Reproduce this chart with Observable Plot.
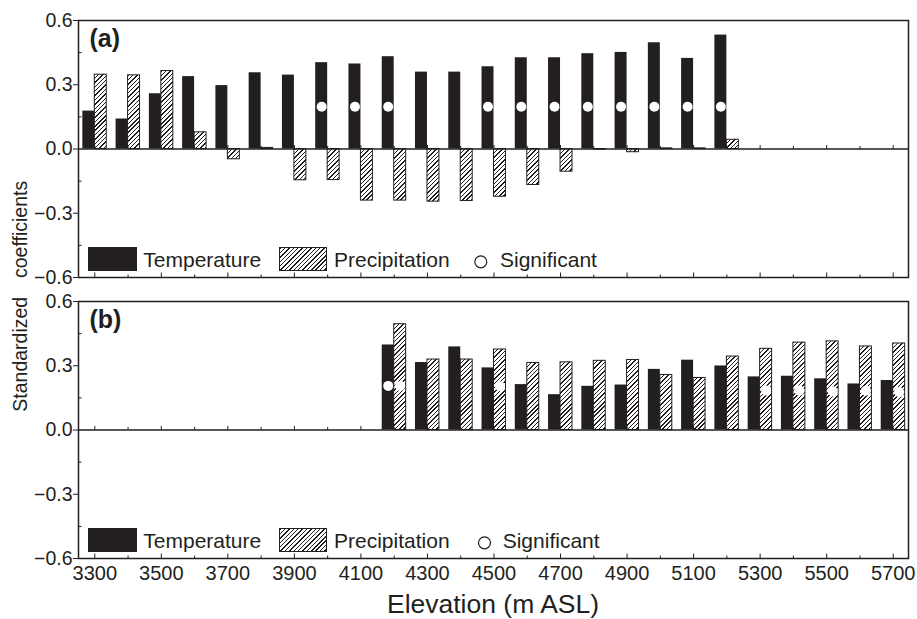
<!DOCTYPE html>
<html>
<head>
<meta charset="utf-8">
<script src="https://cdn.jsdelivr.net/npm/d3@7"></script>
<script src="https://cdn.jsdelivr.net/npm/@observablehq/plot@0.6"></script>
<style>
  html, body { margin: 0; padding: 0; background: #fff; }
  #wrap { position: relative; width: 917px; height: 619px; background: #fff; overflow: hidden; }
  #hatch-layer, #chart, #overlay { position: absolute; left: 0; top: 0; }
  #hatch-layer { width: 917px; height: 619px; }
  #overlay { pointer-events: none; }
</style>
</head>
<body>
<div id="wrap">
  <div id="hatch-layer"></div>
  <div id="chart"></div>
  <svg id="overlay" width="917" height="619"></svg>
</div>
<script>
// ---------------- data ----------------
const elevations = [3300, 3400, 3500, 3600, 3700, 3800, 3900, 4000, 4100, 4200, 4300, 4400, 4500,
                    4600, 4700, 4800, 4900, 5000, 5100, 5200, 5300, 5400, 5500, 5600, 5700];

// Panel (a)
const tempA = [0.177, 0.140, 0.258, 0.338, 0.296, 0.356, 0.345, 0.403, 0.397, 0.431, 0.359, 0.359, 0.384,
               0.426, 0.426, 0.445, 0.451, 0.496, 0.423, 0.532, null, null, null, null, null];
const precA = [0.347, 0.344, 0.364, 0.078, -0.048, 0.005, -0.146, -0.145, -0.241, -0.241, -0.246, -0.243, -0.223,
               -0.168, -0.106, -0.003, -0.015, 0.003, 0.003, 0.043, null, null, null, null, null];

// Panel (b)
const tempB = [null, null, null, null, null, null, null, null, null, 0.397, 0.315, 0.388, 0.290,
               0.212, 0.165, 0.204, 0.210, 0.283, 0.326, 0.299, 0.248, 0.251, 0.239, 0.215, 0.231];
const precB = [null, null, null, null, null, null, null, null, null, 0.494, 0.329, 0.329, 0.376,
               0.313, 0.316, 0.323, 0.327, 0.257, 0.243, 0.343, 0.379, 0.408, 0.414, 0.390, 0.404];

// Significant markers
const sigA_elev   = [4000, 4100, 4200, 4500, 4600, 4700, 4800, 4900, 5000, 5100, 5200];
const sigA_series = ["T", "T", "T", "T", "T", "T", "T", "T", "T", "T", "T"];
const sigA_y      = [0.197, 0.197, 0.197, 0.197, 0.197, 0.197, 0.197, 0.197, 0.197, 0.197, 0.197];
const sigB_elev   = [4200, 4200, 4500, 5300, 5400, 5500, 5600, 5700];
const sigB_series = ["T", "P", "P", "P", "P", "P", "P", "P"];
const sigB_y      = [0.206, 0.206, 0.204, 0.184, 0.184, 0.181, 0.183, 0.177];

// Axes and texts
const xTickLabels = [3300, 3500, 3700, 3900, 4100, 4300, 4500, 4700, 4900, 5100, 5300, 5500, 5700];
const xMinorTicks = [3400, 3600, 3800, 4000, 4200, 4400, 4600, 4800, 5000, 5200, 5400, 5600];
const yTicks = [-0.6, -0.3, 0.0, 0.3, 0.6];
const yMinorTicks = [-0.45, -0.15, 0.15, 0.45];
const panels = ["a", "b"];
const panelLabels = ["(a)", "(b)"];
const legendLabels = ["Temperature", "Precipitation", "Significant"];
const xTitle = "Elevation (m ASL)";
const yTitleWords = ["Standardized", "coefficients"];

// ---------------- styles ----------------
const INK = "#231f20";
const FONT = "'Liberation Sans', Arial, Helvetica, sans-serif";
const BAR_W = 36;          // bar width in metres of elevation
const xDomain = [3251, 5746];
const yDomain = [-0.6, 0.6];
const HATCH = "repeating-linear-gradient(135deg, #231f20 0px, #231f20 1px, #ffffff 1px, #ffffff 3.1px)";

// tick-shaped symbols (fixed pixel length)
const tickUp = len => ({draw(ctx) { ctx.moveTo(0, 0); ctx.lineTo(0, -len); }});
const tickRight = len => ({draw(ctx) { ctx.moveTo(0, 0); ctx.lineTo(len, 0); }});

// ---------------- tables ----------------
const bars = [];
const series = [["a", tempA, "T"], ["a", precA, "P"], ["b", tempB, "T"], ["b", precB, "P"]];
for (const [panel, vals, s] of series) {
  elevations.forEach((e, i) => {
    if (vals[i] != null) bars.push({panel, series: s, elev: e, value: vals[i]});
  });
}
const sig = [];
sigA_elev.forEach((e, i) => sig.push({panel: "a", series: sigA_series[i], elev: e, y: sigA_y[i]}));
sigB_elev.forEach((e, i) => sig.push({panel: "b", series: sigB_series[i], elev: e, y: sigB_y[i]}));
const labels = panels.map((p, i) => ({panel: p, label: panelLabels[i]}));

const tempBars = bars.filter(d => d.series === "T");
const precBars = bars.filter(d => d.series === "P");

function makeChart(withTicks) {
  const tickMarks = withTicks ? [
    Plot.dot(xTickLabels, {x: d => d, y: d => 0, symbol: tickUp(4), fill: "none", stroke: INK, strokeWidth: 1}),
    Plot.dot(xMinorTicks, {x: d => d, y: d => 0, symbol: tickUp(3), fill: "none", stroke: INK, strokeWidth: 1}),
    Plot.dot(xTickLabels, {x: d => d, y: d => yDomain[0], symbol: tickUp(5), fill: "none", stroke: INK, strokeWidth: 1}),
    Plot.dot(xMinorTicks, {x: d => d, y: d => yDomain[0], symbol: tickUp(3), fill: "none", stroke: INK, strokeWidth: 1}),
    Plot.dot(yMinorTicks, {x: d => xDomain[0], y: d => d, symbol: tickRight(3), fill: "none", stroke: INK, strokeWidth: 1})
  ] : [];
  return Plot.plot({
    width: 917,
    height: 619,
    marginTop: 20,
    marginRight: 9,
    marginBottom: 61,
    marginLeft: 78,
    style: {fontFamily: FONT, color: INK, background: "transparent", overflow: "visible"},
    x: {domain: xDomain},
    y: {domain: yDomain},
    fy: {domain: panels, paddingInner: 24 / 281, paddingOuter: 0, axis: null, label: null},
    marks: [
      Plot.rect(tempBars, {fy: "panel", x1: d => d.elev - BAR_W, x2: d => d.elev, y1: 0, y2: "value", fill: INK}),
      Plot.rect(precBars, {fy: "panel", x1: d => d.elev, x2: d => d.elev + BAR_W, y1: 0, y2: "value",
        fill: "none", stroke: INK, strokeWidth: 1}),
      Plot.dot(sig, {fy: "panel", x: d => d.series === "T" ? d.elev - BAR_W / 2 : d.elev + BAR_W / 2, y: "y",
        r: 5, fill: "white", stroke: "none"}),
      Plot.ruleY([0], {stroke: INK, strokeWidth: 1.5}),
      ...tickMarks,
      Plot.frame({stroke: INK, strokeWidth: 1.5}),
      Plot.axisY({ticks: yTicks, tickFormat: d3.format(".1f"), tickSize: 5, tickPadding: 1, fontSize: 19.5,
        label: null}),
      Plot.axisX({ticks: xTickLabels, tickFormat: d => String(d), tickSize: 0, tickPadding: 7, fontSize: 20,
        label: null}),
      Plot.text(labels, {fy: "panel", text: "label", frameAnchor: "top-left", textAnchor: "start",
        lineAnchor: "bottom", dx: 11, dy: 26.5, fontSize: 25, fontWeight: "bold", fill: INK})
    ]
  });
}

let chart;
try { chart = makeChart(true); } catch (e) { chart = makeChart(false); }
document.getElementById("chart").appendChild(chart);

// ---------------- hatching (CSS, placed with the plot's own scales) ----------------
const xS = chart.scale("x"), yS = chart.scale("y"), fyS = chart.scale("fy");
let tops = fyS && fyS.apply ? panels.map(p => fyS.apply(p)) : [20, 301];
if (!tops.every(t => Number.isFinite(t))) tops = [20, 301];
const offsetOf = p => tops[panels.indexOf(p)] - tops[0];
const hatchLayer = document.getElementById("hatch-layer");

function addBox(left, top, w, h, bg, border) {
  const d = document.createElement("div");
  Object.assign(d.style, {position: "absolute", left: left + "px", top: top + "px",
    width: w + "px", height: h + "px", boxSizing: "border-box"});
  if (bg === "hatch") d.style.backgroundImage = HATCH; else d.style.background = bg;
  if (border) d.style.border = border;
  hatchLayer.appendChild(d);
}

if (xS && xS.apply && yS && yS.apply) {
  precBars.forEach(d => {
    const l = xS.apply(d.elev), r = xS.apply(d.elev + BAR_W);
    const y0 = yS.apply(0), y1 = yS.apply(d.value);
    const o = offsetOf(d.panel);
    addBox(l, Math.min(y0, y1) + o, r - l, Math.abs(y1 - y0), "hatch");
  });
}

// ---------------- legends and titles (overlay) ----------------
const ov = d3.select("#overlay");
const sigLegendX = [[480.8, 500], [484.5, 502.7]];
tops.forEach((T, i) => {
  addBox(88.3, T + 227, 49, 24, INK);
  addBox(279, T + 227, 48.3, 24, "hatch", "1px solid " + INK);
  const g = ov.append("g").attr("font-family", FONT).attr("font-size", 21).attr("fill", INK)
    .attr("text-anchor", "start");
  g.append("text").attr("x", 143.3).attr("y", T + 247).text(legendLabels[0]);
  g.append("text").attr("x", 334).attr("y", T + 247).text(legendLabels[1]);
  g.append("circle").attr("cx", sigLegendX[i][0]).attr("cy", T + 241.8).attr("r", 6)
    .attr("fill", "white").attr("stroke", INK).attr("stroke-width", 1.2);
  g.append("text").attr("x", sigLegendX[i][1]).attr("y", T + 247).text(legendLabels[2]);
});

ov.append("text")
  .attr("x", 493).attr("y", 613)
  .attr("text-anchor", "middle")
  .attr("font-family", FONT).attr("font-size", 26.5).attr("fill", INK)
  .text(xTitle);

const yt = ov.append("g").attr("font-family", FONT).attr("font-size", 19.5).attr("fill", INK)
  .attr("text-anchor", "start");
yt.append("text").attr("transform", "translate(26.7,411.7) rotate(-90)").text(yTitleWords[0]);
yt.append("text").attr("transform", "translate(26.7,278) rotate(-90)").text(yTitleWords[1]);
</script>
</body>
</html>
